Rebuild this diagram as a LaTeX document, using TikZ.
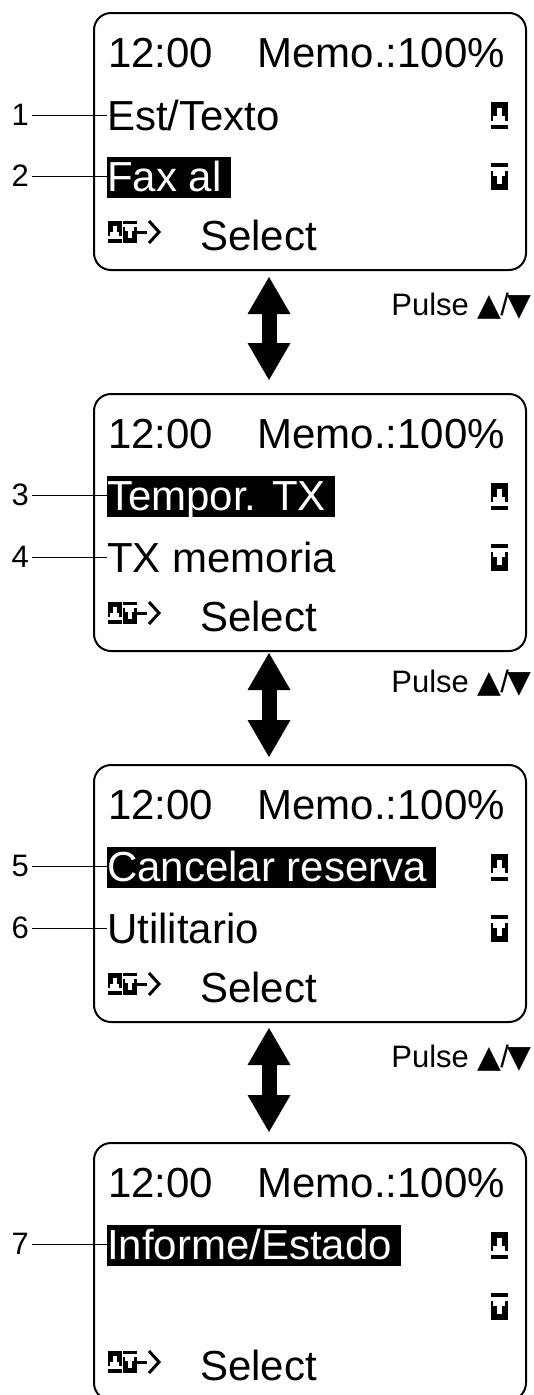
\documentclass[tikz,border=0pt]{standalone}
\usepackage{fontspec}
\setmainfont{Liberation Sans}
\newfontfamily\symfont{DejaVu Sans}
\usetikzlibrary{arrows.meta}
\newcommand{\lcdsize}{\fontsize{42pt}{48pt}\selectfont}
\newcommand{\notesize}{\fontsize{31pt}{36pt}\selectfont}
\newcommand{\tri}[1]{{\symfont\fontsize{31pt}{34pt}\selectfont #1}}

\tikzset{
  lcd/.style={draw, line width=2pt, rounded corners=17pt, minimum width=432pt,
    minimum height=257pt, anchor=north west, inner sep=0pt},
  txt/.style={font=\lcdsize, anchor=base west, inner sep=0pt},
  hilite/.style={txt, fill=black, text=white, text height=34pt, text depth=7pt,
    execute at end node={\hspace{9pt}}},
  num/.style={font=\notesize, anchor=east, inner sep=0pt},
  note/.style={font=\notesize, anchor=base east, inner sep=0pt},
  callout/.style={line width=1pt, shorten <=3pt},
  updown/.style={line width=15pt,
    {Triangle[length=37pt,width=43pt,line width=0pt]}-{Triangle[length=37pt,width=43pt,line width=0pt]}},
  upkey/.pic={
    \fill (0,0) rectangle (17,19);
    \fill[white] (5.8,5.7) rectangle (10.9,19);
    \fill[white] (2.4,14) rectangle (14.3,19);
    \fill (0,23) rectangle (17,27);
  },
  downkey/.pic={
    \fill (0,0) rectangle (17,4);
    \fill (0,8) rectangle (17,27);
    \fill[white] (2.4,8) rectangle (14.3,13);
    \fill[white] (5.8,8) rectangle (10.9,21.3);
  },
}

\begin{document}
\begin{tikzpicture}[x=1pt, y=-1pt]
  \useasboundingbox (0,0) rectangle (534,1395);
  \clip (0,0) rectangle (534,1395);

  % the four screens
  \foreach \top/\k in {12/1, 393/2, 764/3, 1142/4}{
    \begin{scope}[shift={(0,\top)}]
      \node[lcd] (lcd\k) at (93,0) {};
      \node[txt] (clock\k) at (108,55) {12:00};
      \node[txt, anchor=base east] (memo\k) at (505,55) {Memo.:100\%};
      \pic at (491,90) {upkey};
      \pic at (491,151) {downkey};
      \pic[scale=0.8] at (108,209) {upkey};
      \pic[scale=0.8] at (123,209) {downkey};
      \draw[line width=3pt] (136,220) -- (147,220);
      \draw[line width=3pt] (149,209) -- (159,220) -- (149,231);
      \node[txt] (select\k) at (200,238) {Select};
    \end{scope}
  }

  % menu rows
  \node[txt] (est) at (107,130) {Est/Texto};
  \node[hilite] (fax) at (107,191) {Fax al};
  \node[hilite] (tempor) at (107,510) {Tempor. TX};
  \node[txt] (txmem) at (107,572) {TX memoria};
  \node[hilite] (cancel) at (107,881) {Cancelar reserva};
  \node[txt] (util) at (107,943) {Utilitario};
  \node[hilite] (informe) at (107,1259) {Informe/Estado};

  % numbered callouts
  \foreach \n/\row/\y in {1/est/115, 2/fax/176, 3/tempor/495, 4/txmem/557,
                          5/cancel/866, 6/util/928, 7/informe/1244}{
    \node[num] (n\n) at (29,\y) {\n};
    \draw[callout] (n\n.east) -- (n\n.east -| \row.west);
  }

  % scrolling arrows
  \foreach \t/\b/\k in {277/380/1, 653/757/2, 1028/1132/3}{
    \coordinate (up\k) at (269,\t);
    \coordinate (dn\k) at (269,\b);
    \draw[updown] (up\k) -- (dn\k);
  }
  \foreach \y/\k in {315/1, 692/2, 1067/3}
    \node[note] (pulse\k) at (532,\y) {Pulse \tri{▲}\kern-1pt/\kern-1pt\tri{▼}};
\end{tikzpicture}
\end{document}
